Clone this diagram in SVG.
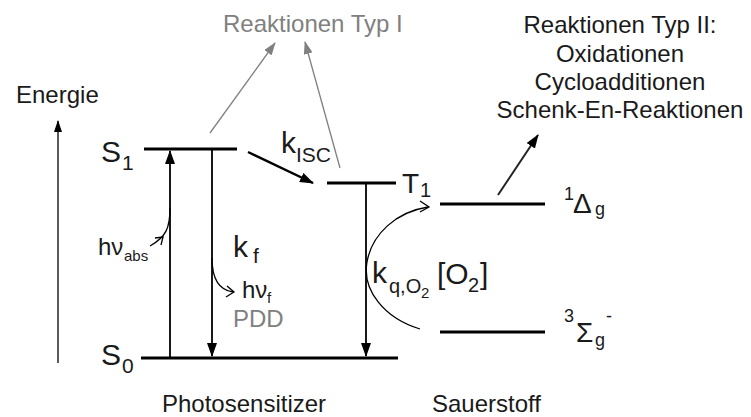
<svg xmlns="http://www.w3.org/2000/svg" width="751" height="417" viewBox="0 0 751 417">
<defs>
<style>
text{font-family:"Liberation Sans",Arial,sans-serif;fill:#1a1a1a}
.t{font-size:24px}
.g{fill:#808080}
.big{font-size:30px}
.sub{font-size:21px}
.lvl{stroke:#000;stroke-width:3.2;fill:none}
.ln{stroke:#000;stroke-width:1.8;fill:none}
.gl{stroke:#808080;stroke-width:1.3;fill:none}
.cv{stroke:#000;stroke-width:1.3;fill:none}
</style>
<marker id="ah" markerUnits="userSpaceOnUse" markerWidth="14" markerHeight="10" refX="13" refY="5" orient="auto"><path d="M0,0 L14,5 L0,10 z" fill="#000"/></marker>
<marker id="ahs" markerUnits="userSpaceOnUse" markerWidth="12" markerHeight="8" refX="11" refY="4" orient="auto"><path d="M0,0 L12,4 L0,8 z" fill="#000"/></marker>
<marker id="ag" markerUnits="userSpaceOnUse" markerWidth="13" markerHeight="9" refX="12" refY="4.5" orient="auto"><path d="M0,0 L13,4.5 L0,9 z" fill="#808080"/></marker>
</defs>

<g id="levels">
<line class="lvl" x1="144" y1="149" x2="237" y2="149"/>
<line class="lvl" x1="141" y1="358" x2="398" y2="358"/>
<line class="lvl" x1="327" y1="183" x2="396" y2="183"/>
<line class="lvl" x1="440" y1="204" x2="545" y2="204"/>
<line class="lvl" x1="440" y1="332" x2="545" y2="332"/>
</g>

<g id="connectors">
<line class="cv" x1="58" y1="363" x2="58" y2="121" marker-end="url(#ahs)"/>
<line class="ln" x1="170" y1="357" x2="170" y2="151" marker-end="url(#ah)"/>
<line class="ln" x1="212" y1="150" x2="212" y2="356" marker-end="url(#ah)"/>
<line class="ln" x1="366" y1="184" x2="366" y2="356" marker-end="url(#ah)"/>
<line stroke="#000" stroke-width="2.4" x1="248" y1="152" x2="313" y2="183" marker-end="url(#ah)"/>
<line stroke="#222" stroke-width="2" x1="498" y1="195" x2="538" y2="135" marker-end="url(#ah)"/>
<line class="gl" x1="210" y1="133" x2="275" y2="43" marker-end="url(#ag)"/>
<line class="gl" x1="340" y1="168" x2="305" y2="42" marker-end="url(#ag)"/>
<path class="cv" d="M170,208 C170,228 166,237 150,246"/>
<path class="cv" d="M155,238 L163,237 L161,245"/>
<path class="cv" d="M212,258 C212,278 218,290 233,292"/>
<path class="cv" d="M227,286 L234,292 L226,297"/>
<path class="cv" d="M420,329 C384,318 362,290 367,262 C372,234 396,212 428,207"/>
<path class="cv" d="M420,201 L429,207 L420,212"/>
</g>

<g id="labels">
<text class="t" x="16" y="103">Energie</text>
<text class="t g" x="223" y="32">Reaktionen Typ I</text>
<g id="typ2">
<text class="t" x="620" y="33" text-anchor="middle">Reaktionen Typ II:</text>
<text class="t" x="620" y="62" text-anchor="middle">Oxidationen</text>
<text class="t" x="620" y="90" text-anchor="middle">Cycloadditionen</text>
<text class="t" x="620" y="118" text-anchor="middle">Schenk-En-Reaktionen</text>
</g>
<text class="big" x="101" y="162">S</text><text class="sub" x="122" y="170">1</text>
<text class="big" x="101" y="365">S</text><text class="sub" x="122" y="373">0</text>
<text x="402" y="193" style="font-size:28px">T</text><text x="420" y="197" style="font-size:20px">1</text>
<text class="big" x="281" y="153">k</text><text class="sub" x="296" y="162">ISC</text>
<text class="big" x="233" y="257">k</text><text class="sub" x="253" y="263">f</text>
<text class="t" x="98" y="255">hν</text><text x="124" y="261" style="font-size:15px">abs</text>
<text class="t" x="242" y="298">hν</text><text x="267" y="303" style="font-size:15px">f</text>
<text class="t g" x="233" y="327">PDD</text>
<text class="big" x="372" y="283">k</text><text x="389" y="293" style="font-size:20px">q,O</text><text x="421" y="298" style="font-size:15px">2</text>
<text class="big" x="437" y="284">[O</text><text x="468" y="292" style="font-size:20px">2</text><text class="big" x="480" y="284">]</text>
<text x="564" y="200" style="font-size:18px">1</text><text x="573" y="213" style="font-size:28px">Δ</text><text x="595" y="215" style="font-size:18px">g</text>
<text x="564" y="322" style="font-size:18px">3</text><text x="576" y="342" style="font-size:28px">Σ</text><text x="595" y="346" style="font-size:18px">g</text><text x="606" y="322" style="font-size:18px">-</text>
<text class="t" x="162" y="412">Photosensitizer</text>
<text class="t" x="432" y="412">Sauerstoff</text>
</g>
</svg>
